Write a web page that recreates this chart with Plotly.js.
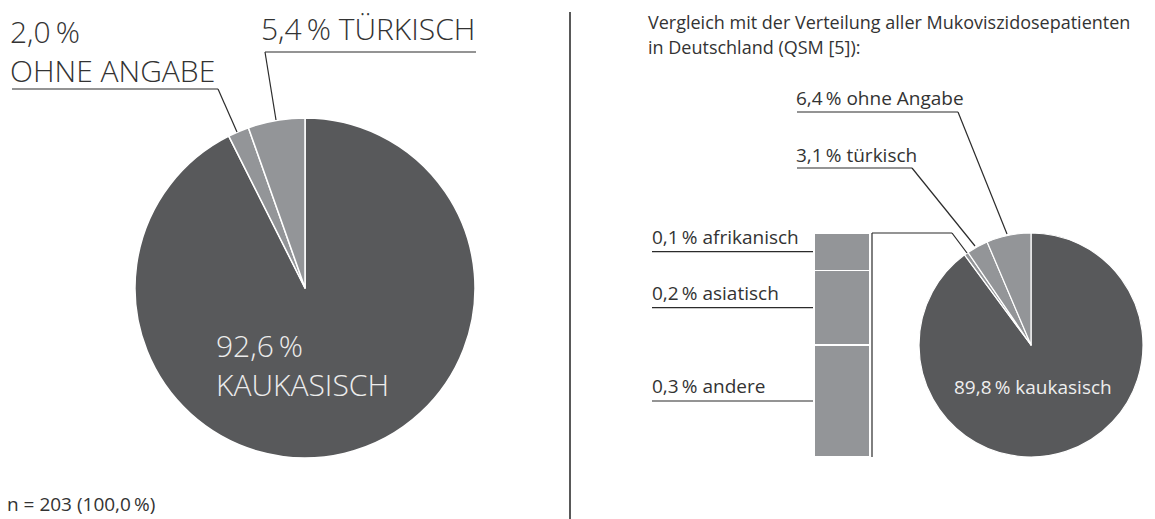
<!DOCTYPE html>
<html>
<head>
<meta charset="utf-8">
<script src="https://cdn.plot.ly/plotly-3.0.1.min.js"></script>
<style>html,body{margin:0;padding:0;background:#fff;}#chart{width:1155px;height:519px;}</style>
</head>
<body>
<div id="chart"></div>
<script>
// ---- data ----
const leftCats = ['KAUKASISCH', 'OHNE ANGABE', 'TÜRKISCH'];
const leftVals = [92.6, 2.0, 5.4];
const nTotal = 203;
const nPercent = 100.0;

const rightCats = ['kaukasisch', 'sonstige', 'türkisch', 'ohne Angabe'];
const otherCats = ['andere', 'asiatisch', 'afrikanisch'];
const otherVals = [0.3, 0.2, 0.1];
const rightMain = [89.8, 3.1, 6.4]; // kaukasisch, türkisch, ohne Angabe
const headerLines = ['Vergleich mit der Verteilung aller Mukoviszidosepatienten', 'in Deutschland (QSM [5]):'];

// ---- helpers ----
const W = 1155, H = 519;
const px = x => x / W;
const py = y => 1 - y / H;
const fmt = v => v.toFixed(1).replace('.', ',') + '\u2009%';
const FONT = 'Open Sans, Noto Sans, sans-serif';
const TXT = '#333333';
const DARK = '#58595b';
const LIGHT = '#939598';

const otherSum = otherVals.reduce((a, b) => a + b, 0);
const rightVals = [rightMain[0], otherSum, rightMain[1], rightMain[2]];

const traces = [
  {
    type: 'pie', labels: leftCats, values: leftVals, sort: false,
    direction: 'clockwise', rotation: 0, textinfo: 'none', hoverinfo: 'skip',
    marker: { colors: [DARK, LIGHT, LIGHT], line: { color: '#ffffff', width: 1.5 } },
    domain: { x: [px(135), px(475)], y: [py(458), py(118)] }
  },
  {
    type: 'pie', labels: rightCats, values: rightVals, sort: false,
    direction: 'clockwise', rotation: 0, textinfo: 'none', hoverinfo: 'skip',
    marker: { colors: [DARK, LIGHT, LIGHT, LIGHT], line: { color: '#ffffff', width: 1.2 } },
    domain: { x: [px(919), px(1143)], y: [py(457), py(233)] }
  }
];
otherCats.forEach((c, i) => {
  traces.push({
    type: 'bar', x: [0], y: [otherVals[i]], name: c, width: 1,
    marker: { color: LIGHT, line: { color: '#ffffff', width: 1.2 } },
    hoverinfo: 'skip', xaxis: 'x', yaxis: 'y'
  });
});

const lineStyle = { color: '#2b2b2b', width: 1.2 };
const shapes = [];
function poly(pts) {
  for (let i = 0; i < pts.length - 1; i++) {
    shapes.push({ type: 'line', xref: 'paper', yref: 'paper',
      x0: px(pts[i][0]), y0: py(pts[i][1]), x1: px(pts[i + 1][0]), y1: py(pts[i + 1][1]),
      line: lineStyle });
  }
}
// separator
shapes.push({ type: 'line', xref: 'paper', yref: 'paper', x0: px(570), x1: px(570), y0: py(12), y1: 0,
  line: { color: '#222', width: 1.5 } });
// left pie leaders
poly([[12, 89], [218, 89], [237, 132]]);
poly([[476, 52], [265, 52], [276, 120]]);
// right pie leaders
poly([[797, 112], [958, 112], [1007, 234]]);
poly([[797, 168], [912, 168], [975, 246]]);
// bracket from bar to pie
shapes.push({ type: 'line', xref: 'paper', yref: 'y', x0: px(872), x1: px(872), y0: 0, y1: otherSum, line: lineStyle });
poly([[872, 233], [952, 233], [967, 253]]);

const annotations = [];
const SMALL = 19;
// bar segment labels + underlines
let cum = 0;
otherCats.forEach((c, i) => {
  const mid = cum + otherVals[i] / 2;
  cum += otherVals[i];
  shapes.push({ type: 'line', xref: 'paper', yref: 'y', x0: px(652), x1: px(813), y0: mid, y1: mid, line: lineStyle });
  annotations.push({ xref: 'paper', yref: 'y', x: px(650), y: mid, xanchor: 'left', yanchor: 'bottom',
    yshift: 0, showarrow: false, text: fmt(otherVals[i]) + ' ' + c,
    font: { family: FONT, size: SMALL, color: TXT } });
});

function ann(x, y, text, size, color, weight, xanchor, yanchor) {
  annotations.push({ xref: 'paper', yref: 'paper', x: px(x), y: py(y), xanchor: xanchor || 'left',
    yanchor: yanchor || 'middle', align: 'left', showarrow: false, text: text,
    font: { family: FONT, size: size, color: color || TXT, weight: weight || 400 } });
}
const BIG = 30;
// left pie labels
ann(8, 51, fmt(leftVals[1]) + '<br>' + leftCats[1], BIG, TXT, 300);
ann(259, 28, fmt(leftVals[2]) + ' ' + leftCats[2], BIG, TXT, 300);
ann(214, 365, fmt(leftVals[0]) + '<br>' + leftCats[0], BIG, '#ececec', 300);
// footer
ann(5, 519, 'n = ' + nTotal + ' (' + fmt(nPercent) + ')', SMALL, TXT, 400, 'left', 'bottom');
// right side
ann(646, 22, headerLines[0], 18);
ann(646, 47, headerLines[1], 18);
ann(794, 98, fmt(rightVals[3]) + ' ' + rightCats[3], SMALL);
ann(794, 155, fmt(rightVals[2]) + ' ' + rightCats[2], SMALL);
ann(1033, 387, fmt(rightVals[0]) + ' ' + rightCats[0], SMALL, '#eeeeee', 400, 'center');

const layout = {
  width: W, height: H, margin: { l: 0, r: 0, t: 0, b: 0 },
  paper_bgcolor: '#ffffff', plot_bgcolor: 'rgba(0,0,0,0)',
  showlegend: false, hovermode: false, barmode: 'stack', bargap: 0,
  xaxis: { domain: [px(814), px(870)], range: [-0.5, 0.5], visible: false, fixedrange: true },
  yaxis: { domain: [py(457), py(233)], range: [0, otherSum], visible: false, fixedrange: true },
  shapes: shapes, annotations: annotations,
  font: { family: FONT, color: TXT }
};

Plotly.newPlot('chart', traces, layout, { displayModeBar: false, staticPlot: true });
</script>
</body>
</html>
